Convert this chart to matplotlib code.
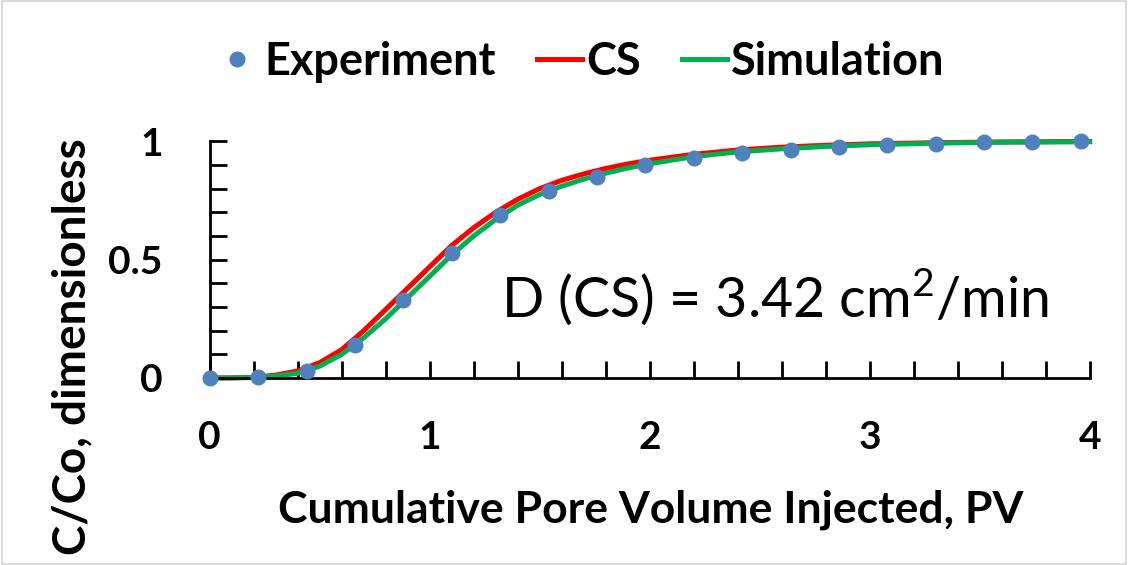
import matplotlib.pyplot as plt
from matplotlib.patches import Rectangle
from matplotlib.ticker import MultipleLocator

plt.rcParams['font.family'] = ['Lato', 'DejaVu Sans']
plt.rcParams['font.weight'] = 'bold'
plt.rcParams['mathtext.fontset'] = 'custom'
plt.rcParams['mathtext.rm'] = 'Lato:weight=normal'

# experiment points
pv_exp = [0, 0.22, 0.44, 0.66, 0.88, 1.10, 1.32, 1.54, 1.76, 1.98, 2.20,
          2.42, 2.64, 2.86, 3.08, 3.30, 3.52, 3.74, 3.96]
c_exp = [0, 0.005, 0.03, 0.14, 0.33, 0.53, 0.69, 0.79, 0.85, 0.90, 0.93,
         0.95, 0.965, 0.975, 0.983, 0.99, 0.995, 0.998, 1.0]

# model curves
pv_curve = [0, 0.1, 0.2, 0.3, 0.4, 0.5, 0.6, 0.7, 0.8, 0.9, 1.0, 1.1, 1.2, 1.3,
            1.4, 1.5, 1.6, 1.7, 1.8, 1.9, 2.0, 2.2, 2.4, 2.6, 2.8, 3.0, 3.3, 3.6, 4.0]
c_cs = [0, 0.0005, 0.003, 0.012, 0.03, 0.065, 0.12, 0.20, 0.29, 0.38, 0.47, 0.56,
        0.635, 0.70, 0.755, 0.80, 0.835, 0.862, 0.885, 0.904, 0.92, 0.945, 0.963,
        0.975, 0.983, 0.989, 0.994, 0.997, 0.999]
c_sim = [0, 0.0003, 0.002, 0.008, 0.02, 0.05, 0.10, 0.17, 0.25, 0.34, 0.43, 0.52,
         0.60, 0.67, 0.73, 0.775, 0.81, 0.84, 0.865, 0.887, 0.905, 0.935, 0.955,
         0.968, 0.978, 0.985, 0.992, 0.996, 0.998]

fig = plt.figure(figsize=(11.28, 5.65), dpi=100)
ax = fig.add_axes([0.186, 0.331, 0.780, 0.419])

l_cs, = ax.plot(pv_curve, c_cs, color='#ff0000', lw=3.6, label='CS', clip_on=False)
l_sim, = ax.plot(pv_curve, c_sim, color='#00b050', lw=3.6, label='Simulation', clip_on=False)
p_exp, = ax.plot(pv_exp, c_exp, 'o', color='#4f81bd', ms=10.5, label='Experiment',
                 clip_on=False, zorder=5)

ax.set_xlim(0, 4)
ax.set_ylim(0, 1)
ax.xaxis.set_major_locator(MultipleLocator(1))
ax.xaxis.set_minor_locator(MultipleLocator(0.2))
ax.yaxis.set_major_locator(MultipleLocator(0.5))
ax.yaxis.set_minor_locator(MultipleLocator(0.1))
ax.yaxis.set_major_formatter(plt.FuncFormatter(lambda v, p: '{:g}'.format(v)))
for s in ['top', 'right']:
    ax.spines[s].set_visible(False)
for s in ['left', 'bottom']:
    ax.spines[s].set_linewidth(2)
ax.tick_params(which='both', direction='in', width=2, length=12, labelsize=28)
ax.tick_params(axis='x', pad=30)
ax.tick_params(axis='y', pad=34)

fig.text(0.577, 0.076, 'Cumulative Pore Volume Injected, PV', ha='center', va='baseline',
         fontsize=32)
fig.text(0.064, 0.386, 'C/Co, dimensionless', ha='center', va='center', rotation=90,
         fontsize=33)

ax.text(0.331, 0.26, 'D (CS) = 3.42 cm$^{2}$/min', transform=ax.transAxes,
        fontsize=40, va='baseline', fontweight='normal')

fig.legend([p_exp, l_cs, l_sim], ['Experiment', 'CS', 'Simulation'], loc='center',
           bbox_to_anchor=(0.514, 0.89), ncol=3, frameon=False, handlelength=1.0,
           handletextpad=0.1, columnspacing=0.9, prop={'size': 32.5, 'weight': 'bold'})

fig.patches.append(Rectangle((0.002, 0.002), 0.996, 0.996, transform=fig.transFigure,
                             fill=False, edgecolor='#d9d9d9', lw=1.5))

plt.savefig('out.png', dpi=100)
